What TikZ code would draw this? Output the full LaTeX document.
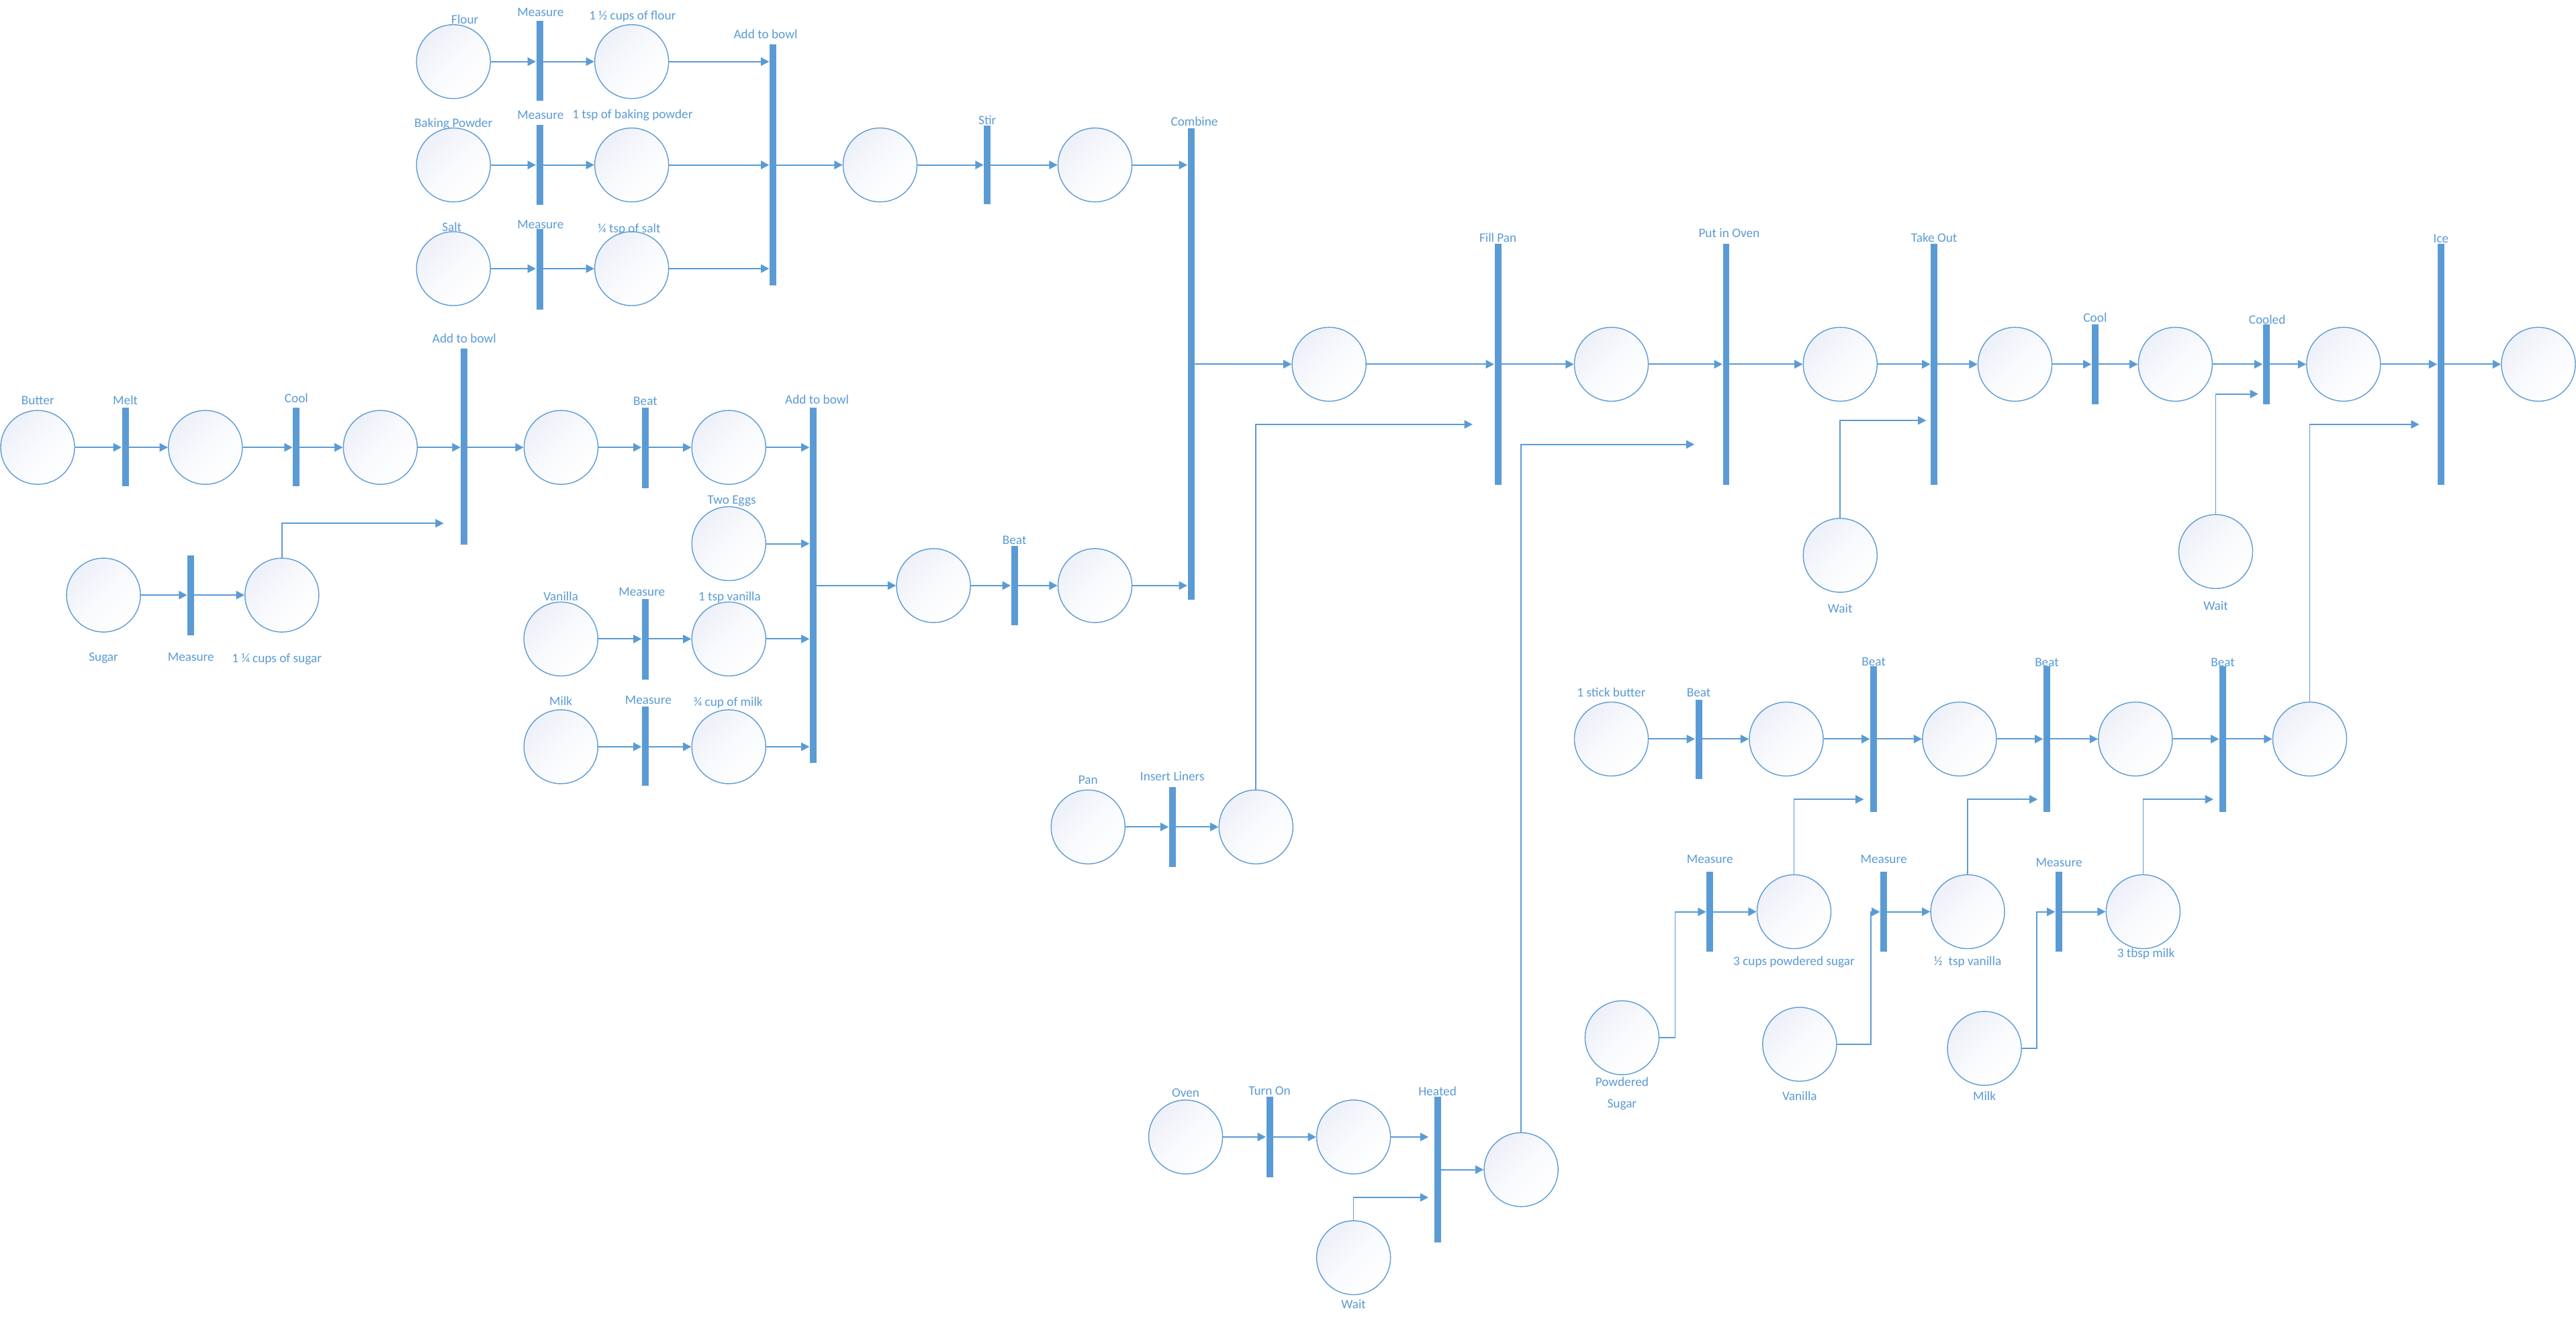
\documentclass[tikz,border=0pt]{standalone}
\usepackage{fontspec}
\setmainfont{Carlito}
\usetikzlibrary{arrows.meta}
\definecolor{cb}{HTML}{5B9BD5}
\definecolor{cfill}{HTML}{EDF0F8}
\begin{document}
\begin{tikzpicture}[x=0.25mm,y=-0.25mm,
 pl/.style={circle, draw=cb, line width=0.4pt, minimum size=11.25mm, inner sep=0pt, top color=cfill, bottom color=white, middle color=cfill!35!white, shading angle=45},
 tbar/.style={rectangle, fill=cb, draw=none, inner sep=0pt, minimum width=1mm, minimum height=#1*0.25mm},
 lbl/.style={text=cb, inner sep=0pt, font=\fontsize{5.6}{6.5}\selectfont},
 arr/.style={draw=cb, line width=0.6pt, -{Triangle[length=3.6pt,width=3.6pt]}},
 arrl/.style={arr, line width=0.5pt}]
\fill[white] (0,0) rectangle (1568,802.4);
\useasboundingbox (0,0) rectangle (1568,802.4);

% ---------- dry ingredients ----------
\node[pl] (flour) at (276,37.5) {};
\node[lbl] (lflour) at (283,11.6) {Flour};
\node[tbar=49] (mflour) at (328.5,37) {};
\node[lbl] (lmflour) at (329,7.5) {Measure};
\node[pl] (cflour) at (384.5,37.5) {};
\node[lbl] (lcflour) at (385,9.8) {1 ½ cups of flour};
\node[tbar=147] (add1) at (470.5,100.4) {};
\node[lbl] (ladd1) at (466,20.8) {Add to bowl};
\node[pl] (bp) at (276,100.4) {};
\node[lbl] (lbp) at (276,75.3) {Baking Powder};
\node[tbar=48.5] (mbp) at (328.5,100.4) {};
\node[lbl] (lmbp) at (329,70.2) {Measure};
\node[pl] (cbp) at (384.5,100.4) {};
\node[lbl] (lcbp) at (385,70.2) {1 tsp of baking powder};
\node[pl] (salt) at (276,163.5) {};
\node[lbl] (lsalt) at (275,138) {Salt};
\node[tbar=49] (msalt) at (328.5,163.8) {};
\node[lbl] (lmsalt) at (329,136.7) {Measure};
\node[pl] (csalt) at (384.5,163.5) {};
\node[lbl] (lcsalt) at (383,139.7) {¼ tsp of salt};
\node[pl] (bowl1) at (535.7,100.4) {};
\node[tbar=48] (stir) at (601,100.4) {};
\node[lbl] (lstir) at (601,73) {Stir};
\node[pl] (stirred) at (666.5,100.4) {};
\node[tbar=287] (combine) at (725,221.5) {};
\node[lbl] (lcombine) at (727,74) {Combine};

\draw[arr] (flour) -- (flour -| mflour.west);
\draw[arr] (cflour -| mflour) -- (cflour);
\draw[arr] (bp) -- (bp -| mbp.west);
\draw[arr] (cbp -| mbp) -- (cbp);
\draw[arr] (salt) -- (salt -| msalt.west);
\draw[arr] (csalt -| msalt) -- (csalt);
\draw[arr] (cflour) -- (cflour -| add1.west);
\draw[arr] (cbp) -- (cbp -| add1.west);
\draw[arr] (csalt) -- (csalt -| add1.west);
\draw[arr] (bowl1 -| add1) -- (bowl1);
\draw[arr] (bowl1) -- (bowl1 -| stir.west);
\draw[arr] (stirred -| stir) -- (stirred);
\draw[arr] (stirred) -- (stirred -| combine.west);

% ---------- wet ingredients ----------
\node[pl] (butter) at (22.9,272.3) {};
\node[lbl] (lbutter) at (23,243.6) {Butter};
\node[tbar=48] (melt) at (76.3,272) {};
\node[lbl] (lmelt) at (76.3,243.6) {Melt};
\node[pl] (melted) at (125,272.3) {};
\node[tbar=48] (cool1) at (180.4,272) {};
\node[lbl] (lcool1) at (180.4,242.4) {Cool};
\node[pl] (cooled1) at (231.5,272.3) {};
\node[tbar=119.3] (add2) at (282.6,271.9) {};
\node[lbl] (ladd2) at (282.6,206) {Add to bowl};
\node[pl] (bowl2) at (341.5,272.3) {};
\node[tbar=48.8] (beat1) at (392.8,272.6) {};
\node[lbl] (lbeat1) at (392.8,244) {Beat};
\node[pl] (beaten1) at (443.6,272.3) {};
\node[tbar=216] (add3) at (495,356.3) {};
\node[lbl] (ladd3) at (497.3,243) {Add to bowl};
\node[pl] (sugar) at (63,362.2) {};
\node[lbl] (lsugar) at (63,400.6) {Sugar};
\node[tbar=48.4] (msugar) at (116.2,362.4) {};
\node[lbl] (lmsugar) at (116.2,399.8) {Measure};
\node[pl] (csugar) at (171.6,362.2) {};
\node[lbl] (lcsugar) at (168.5,401.3) {1 ¼ cups of sugar};
\node[pl] (eggs) at (443.6,330.9) {};
\node[lbl] (leggs) at (445.4,304.8) {Two Eggs};
\node[pl] (vanilla) at (341.4,388.9) {};
\node[lbl] (lvanilla) at (341.4,363) {Vanilla};
\node[tbar=48.8] (mvan) at (392.8,389.1) {};
\node[lbl] (lmvan) at (390.7,360.3) {Measure};
\node[pl] (cvan) at (443.6,388.9) {};
\node[lbl] (lcvan) at (444.1,363.4) {1 tsp vanilla};
\node[pl] (milk) at (341.4,454.5) {};
\node[lbl] (lmilk) at (341.4,426.8) {Milk};
\node[tbar=48.4] (mmilk) at (392.8,454.2) {};
\node[lbl] (lmmilk) at (394.6,426) {Measure};
\node[pl] (cmilk) at (443.6,454.5) {};
\node[lbl] (lcmilk) at (443.1,427.6) {¾ cup of milk};
\node[pl] (batter) at (568.2,356.4) {};
\node[tbar=48.4] (beat2) at (617.5,356.4) {};
\node[lbl] (lbeat2) at (617.5,328.7) {Beat};
\node[pl] (beaten2) at (666.5,356.4) {};
\coordinate (insugar) at (270.1,318.5);

\draw[arr] (butter) -- (butter -| melt.west);
\draw[arr] (melted -| melt) -- (melted);
\draw[arr] (melted) -- (melted -| cool1.west);
\draw[arr] (cooled1 -| cool1) -- (cooled1);
\draw[arr] (cooled1) -- (cooled1 -| add2.west);
\draw[arr] (bowl2 -| add2) -- (bowl2);
\draw[arr] (bowl2) -- (bowl2 -| beat1.west);
\draw[arr] (beaten1 -| beat1) -- (beaten1);
\draw[arr] (sugar) -- (sugar -| msugar.west);
\draw[arr] (csugar -| msugar) -- (csugar);
\draw[arrl] (csugar.north) |- (insugar);
\draw[arr] (vanilla) -- (vanilla -| mvan.west);
\draw[arr] (cvan -| mvan) -- (cvan);
\draw[arr] (milk) -- (milk -| mmilk.west);
\draw[arr] (cmilk -| mmilk) -- (cmilk);
\draw[arr] (beaten1) -- (beaten1 -| add3.west);
\draw[arr] (eggs) -- (eggs -| add3.west);
\draw[arr] (cvan) -- (cvan -| add3.west);
\draw[arr] (cmilk) -- (cmilk -| add3.west);
\draw[arr] (batter -| add3) -- (batter);
\draw[arr] (batter) -- (batter -| beat2.west);
\draw[arr] (beaten2 -| beat2) -- (beaten2);
\draw[arr] (beaten2) -- (beaten2 -| combine.west);

% ---------- baking ----------
\node[pl] (mixed) at (809,221.7) {};
\node[tbar=146.7] (fill) at (911.8,221.7) {};
\node[lbl] (lfill) at (911.8,144.6) {Fill Pan};
\node[pl] (filled) at (980.8,221.7) {};
\node[tbar=146.7] (putin) at (1050.7,221.7) {};
\node[lbl] (lputin) at (1052.5,142) {Put in Oven};
\node[pl] (baking) at (1120.1,221.7) {};
\node[tbar=146.7] (takeout) at (1177.3,221.7) {};
\node[lbl] (ltakeout) at (1177.3,144.6) {Take Out};
\node[pl] (baked) at (1226.5,221.7) {};
\node[tbar=48.9] (cool2) at (1275.3,221.7) {};
\node[lbl] (lcool2) at (1275.3,193.4) {Cool};
\node[pl] (cooling) at (1324.1,221.7) {};
\node[tbar=48.9] (cooled) at (1379.5,221.7) {};
\node[lbl] (lcooled) at (1380,194.6) {Cooled};
\node[pl] (cooledc) at (1426.5,221.7) {};
\node[tbar=146.7] (ice) at (1485.8,221.7) {};
\node[lbl] (lice) at (1485.8,145.4) {Ice};
\node[pl] (done) at (1545.1,221.7) {};
\node[pl] (wait1) at (1120.1,338) {};
\node[lbl] (lwait1) at (1120.1,370.5) {Wait};
\node[pl] (wait2) at (1348.7,335.7) {};
\node[lbl] (lwait2) at (1348.7,368.6) {Wait};
\coordinate (inwait1) at (1172.5,255.9);
\coordinate (inwait2) at (1374.6,239.8);

\draw[arr] (combine) -- (mixed);
\draw[arr] (mixed) -- (mixed -| fill.west);
\draw[arr] (filled -| fill) -- (filled);
\draw[arr] (filled) -- (filled -| putin.west);
\draw[arr] (baking -| putin) -- (baking);
\draw[arr] (baking) -- (baking -| takeout.west);
\draw[arr] (baked -| takeout) -- (baked);
\draw[arr] (baked) -- (baked -| cool2.west);
\draw[arr] (cooling -| cool2) -- (cooling);
\draw[arr] (cooling) -- (cooling -| cooled.west);
\draw[arr] (cooledc -| cooled) -- (cooledc);
\draw[arr] (cooledc) -- (cooledc -| ice.west);
\draw[arr] (done -| ice) -- (done);
\draw[arrl] (wait1.north) |- (inwait1);
\draw[arrl] (wait2.north) |- (inwait2);

% ---------- pan ----------
\node[pl] (pan) at (662.3,503.3) {};
\node[lbl] (lpan) at (662.3,474.7) {Pan};
\node[tbar=48.7] (insert) at (713.6,503.3) {};
\node[lbl] (linsert) at (713.6,472.6) {Insert Liners};
\node[pl] (lined) at (764.5,503.3) {};
\coordinate (inpan) at (896.4,258.3);
\draw[arr] (pan) -- (pan -| insert.west);
\draw[arr] (lined -| insert) -- (lined);
\draw[arrl] (lined.north) |- (inpan);

% ---------- oven ----------
\node[pl] (oven) at (721.7,692) {};
\node[lbl] (loven) at (721.7,665) {Oven};
\node[tbar=48.7] (turnon) at (772.8,692) {};
\node[lbl] (lturnon) at (772.8,664) {Turn On};
\node[pl] (on) at (823.9,692) {};
\node[tbar=88.5] (heated) at (875,711.9) {};
\node[lbl] (lheated) at (875,664) {Heated};
\node[pl] (hot) at (925.9,711.9) {};
\node[pl] (wait3) at (823.9,765.5) {};
\node[lbl] (lwait3) at (823.9,793.7) {Wait};
\coordinate (inon) at (869.5,692);
\coordinate (inwait3) at (869.5,728.8);
\coordinate (inhot) at (1031.4,270.5);
\draw[arr] (oven) -- (oven -| turnon.west);
\draw[arr] (on -| turnon) -- (on);
\draw[arr] (on) -- (inon);
\draw[arrl] (wait3.north) |- (inwait3);
\draw[arr] (heated) -- (hot);
\draw[arrl] (hot.north) |- (inhot);

% ---------- icing ----------
\node[pl] (stick) at (980.8,449.8) {};
\node[lbl] (lstick) at (980.8,421.5) {1 stick butter};
\node[tbar=48.3] (ib1) at (1034,449.9) {};
\node[lbl] (lib1) at (1034,421.5) {Beat};
\node[pl] (i1) at (1087.3,449.8) {};
\node[tbar=88.4] (ib2) at (1140.5,449.8) {};
\node[lbl] (lib2) at (1140.5,402.6) {Beat};
\node[pl] (i2) at (1192.7,449.8) {};
\node[tbar=88.4] (ib3) at (1245.9,449.8) {};
\node[lbl] (lib3) at (1245.9,403.3) {Beat};
\node[pl] (i3) at (1299.8,449.8) {};
\node[tbar=88.4] (ib4) at (1353,449.8) {};
\node[lbl] (lib4) at (1353,403.3) {Beat};
\node[pl] (i4) at (1405.9,449.8) {};
\node[tbar=48.5] (im1) at (1040.8,555) {};
\node[lbl] (lim1) at (1040.8,523) {Measure};
\node[pl] (ps3) at (1092,554.9) {};
\node[lbl] (lps3) at (1092,585.4) {3 cups powdered sugar};
\node[tbar=48.5] (im2) at (1146.6,555) {};
\node[lbl] (lim2) at (1146.6,523) {Measure};
\node[pl] (v3) at (1197.7,554.9) {};
\node[lbl] (lv3) at (1197.7,585.4) {½\ \ tsp vanilla};
\node[tbar=48.5] (im3) at (1253.3,555) {};
\node[lbl] (lim3) at (1253.3,525) {Measure};
\node[pl] (m3) at (1304.5,554.9) {};
\node[lbl] (lm3) at (1306.2,580.5) {3 tbsp milk};
\node[pl] (psugar) at (987.3,631.6) {};
\node[lbl] (lpsugar1) at (987.3,658.4) {Powdered};
\node[lbl] (lpsugar2) at (987.3,672.3) {Sugar};
\node[pl] (ivan) at (1095.4,635.6) {};
\node[lbl] (livan) at (1095.4,667.1) {Vanilla};
\node[pl] (imilk) at (1207.9,638.1) {};
\node[lbl] (limilk) at (1207.9,667.1) {Milk};
\coordinate (inps3) at (1134.5,486.5);
\coordinate (inv3) at (1240.3,486.5);
\coordinate (inm3) at (1347.3,486.5);
\coordinate (ini4) at (1472.6,258.3);

\draw[arr] (stick) -- (stick -| ib1.west);
\draw[arr] (i1 -| ib1) -- (i1);
\draw[arr] (i1) -- (i1 -| ib2.west);
\draw[arr] (i2 -| ib2) -- (i2);
\draw[arr] (i2) -- (i2 -| ib3.west);
\draw[arr] (i3 -| ib3) -- (i3);
\draw[arr] (i3) -- (i3 -| ib4.west);
\draw[arr] (i4 -| ib4) -- (i4);
\draw[arrl] (i4.north) |- (ini4);
\draw[arr] (ps3 -| im1) -- (ps3);
\draw[arr] (v3 -| im2) -- (v3);
\draw[arr] (m3 -| im3) -- (m3);
\draw[arrl] (ps3.north) |- (inps3);
\draw[arrl] (v3.north) |- (inv3);
\draw[arrl] (m3.north) |- (inm3);
\draw[arrl] (psugar.east) -- ++(9.5,0) |- (im1.west);
\draw[arrl] (ivan.east) -- ++(20.5,0) |- (im2.west);
\draw[arrl] (imilk.east) -- ++(9,0) |- (im3.west);
\end{tikzpicture}
\end{document}
